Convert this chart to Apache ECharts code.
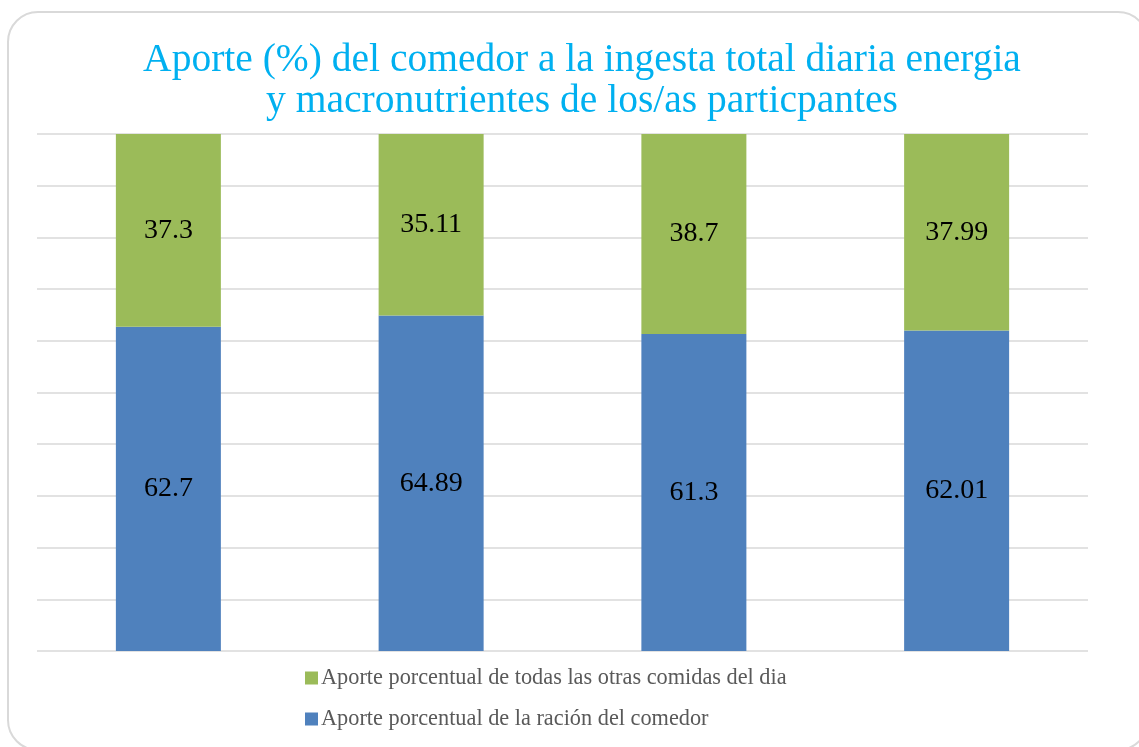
<!DOCTYPE html>
<html>
<head>
<meta charset="utf-8">
<script src="https://cdn.jsdelivr.net/npm/echarts@6/dist/echarts.min.js"></script>
<style>
html,body{margin:0;padding:0;background:#fff;}
#chart{width:1139px;height:747px;}
</style>
</head>
<body>
<div id="chart"></div>
<script>
const categories = ['Energía', 'Proteínas', 'Grasas', 'Carbohidratos'];
const racionComedor = [62.7, 64.89, 61.3, 62.01];
const otrasComidas = [37.3, 35.11, 38.7, 37.99];
const seriesNames = ['Aporte porcentual de la ración del comedor', 'Aporte porcentual de todas las otras comidas del dia'];
const titleText = 'Aporte (%) del comedor a la ingesta total diaria energia\ny macronutrientes de los/as particpantes';

const chart = echarts.init(document.getElementById('chart'));
const serif = '"Liberation Serif", "DejaVu Serif", serif';
const labelStyle = {
  show: true,
  position: 'inside',
  color: '#000',
  fontFamily: serif,
  fontSize: 28
};
chart.setOption({
  animation: false,
  backgroundColor: '#fff',
  graphic: [{
    type: 'rect',
    shape: {x: 8, y: 12, width: 1140, height: 738, r: 30},
    style: {fill: 'none', stroke: '#d9d9d9', lineWidth: 2},
    z: -1
  }],
  title: {
    text: titleText,
    left: 577,
    top: 35,
    textAlign: 'center',
    textStyle: {
      color: '#00B0F0',
      fontFamily: serif,
      fontWeight: 'normal',
      fontSize: 39.5,
      lineHeight: 41
    }
  },
  legend: {
    orient: 'vertical',
    left: 300,
    top: 662,
    itemWidth: 13,
    itemHeight: 13,
    itemGap: 19,
    icon: 'rect',
    data: [seriesNames[1], seriesNames[0]],
    textStyle: {color: '#595959', fontFamily: serif, fontSize: 22.3, padding: [0, 0, 0, -2]}
  },
  grid: {left: 37, right: 51, top: 134, bottom: 96},
  xAxis: {
    type: 'category',
    data: categories,
    axisLine: {show: false},
    axisTick: {show: false},
    axisLabel: {show: false}
  },
  yAxis: {
    type: 'value',
    min: 0,
    max: 100,
    interval: 10,
    axisLabel: {show: false},
    axisLine: {show: false},
    axisTick: {show: false},
    splitLine: {lineStyle: {color: '#d9d9d9', width: 1.5}}
  },
  series: [
    {
      name: seriesNames[0],
      type: 'bar',
      stack: 'total',
      barWidth: 105,
      data: racionComedor,
      itemStyle: {color: '#4F81BD'},
      label: labelStyle
    },
    {
      name: seriesNames[1],
      type: 'bar',
      stack: 'total',
      barWidth: 105,
      data: otrasComidas,
      itemStyle: {color: '#9BBB59'},
      label: labelStyle
    }
  ]
});
</script>
</body>
</html>
